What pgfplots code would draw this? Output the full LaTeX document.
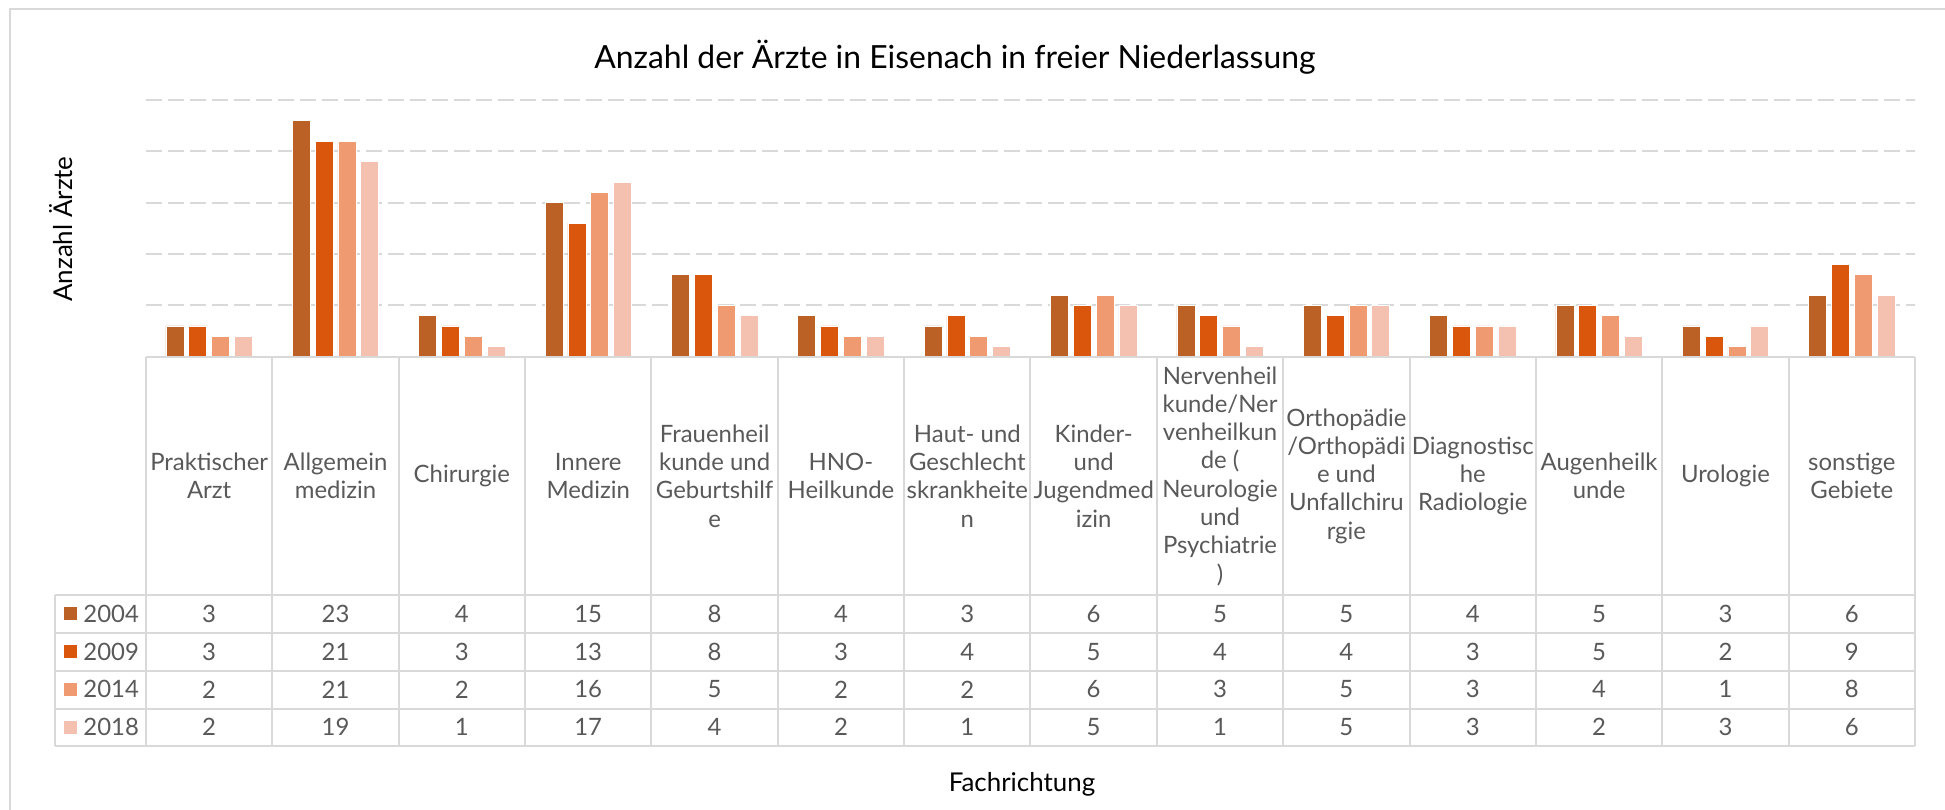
\documentclass[border=0pt]{standalone}
\usepackage{pgfplots}
\pgfplotsset{compat=1.18}
\usepackage{pgfplotstable}
\usepackage{fontspec}
\setmainfont{Lato}
\definecolor{c04}{HTML}{BB6125}
\definecolor{c09}{HTML}{DA560C}
\definecolor{c14}{HTML}{F09A72}
\definecolor{c18}{HTML}{F4C1B0}
\definecolor{gridc}{HTML}{D9D9D9}
\definecolor{txt}{HTML}{595959}

\pgfplotstableread{
x y2004 y2009 y2014 y2018
0 3 3 2 2
1 23 21 21 19
2 4 3 2 1
3 15 13 16 17
4 8 8 5 4
5 4 3 2 2
6 3 4 2 1
7 6 5 6 5
8 5 4 3 1
9 5 4 5 5
10 4 3 3 3
11 5 5 4 2
12 3 2 1 3
13 6 9 8 6
}\data

\begin{document}
\begin{tikzpicture}
\useasboundingbox (0,0) rectangle (972.5bp,-405bp);
\begin{axis}[
  at={(73bp,-178.35bp)}, anchor=south west,
  scale only axis, width=884.5bp, height=128.35bp,
  xmin=-0.5, xmax=13.5, ymin=0, ymax=25,
  ybar=2.4bp, bar width=9bp,
  axis line style={draw=none},
  ytick={5,10,15,20,25}, yticklabels={},
  ymajorgrids,
  grid style={draw=gridc, line width=1bp, dash pattern=on 8bp off 3bp},
  major tick length=0pt,
  xtick={0,...,13},
  xticklabels={{Praktischer\\Arzt},{Allgemein\\medizin},{Chirurgie},{Innere\\Medizin},{Frauenheil\\kunde und\\Geburtshilf\\e},{HNO-\\Heilkunde},{Haut- und\\Geschlecht\\skrankheite\\n},{Kinder-\\und\\Jugendmed\\izin},{Nervenheil\\kunde/Ner\\venheilkun\\de (\\Neurologie\\und\\Psychiatrie\\)},{Orthopädie\\/Orthopädi\\e und\\Unfallchiru\\rgie},{Diagnostisc\\he\\Radiologie},{Augenheilk\\unde},{Urologie},{sonstige\\Gebiete}},
  xticklabel style={anchor=center, yshift=-59.65bp, align=center, inner sep=0pt,
    font=\fontsize{12}{14.2}\selectfont, text=txt},
  every axis plot/.append style={draw=white, line width=0.3bp},
  clip=false,
]
\addplot[fill=c04] table[x=x,y=y2004]{\data};
\addplot[fill=c09] table[x=x,y=y2009]{\data};
\addplot[fill=c14] table[x=x,y=y2014]{\data};
\addplot[fill=c18] table[x=x,y=y2018]{\data};
\end{axis}
\begin{scope}[x=0.5bp,y=-0.5bp]
\draw[gridc, line width=0.9bp] (10,810) -- (10,9) -- (1945,9);
% data table lines
\begin{scope}[gridc, line width=1bp]
\draw (146,356.7) -- (1915,356.7);
\foreach \yy in {595,633,671,709,746} \draw (55,\yy) -- (1915,\yy);
\foreach \i in {0,...,14} \draw ({146+\i*126.357},356.7) -- ({146+\i*126.357},746);
\draw (55,595) -- (55,746);
\end{scope}
% legend keys and values
\foreach \col/\yr/\cc [count=\k from 0] in {y2004/2004/c04,y2009/2009/c09,y2014/2014/c14,y2018/2018/c18}{
  \fill[\cc] (64,{595+(\k+0.5)*37.75-6.5}) rectangle (77,{595+(\k+0.5)*37.75+6.5});
  \node[anchor=west, inner sep=0pt, text=txt, font=\fontsize{12}{14.4}\selectfont] at (83,{595+(\k+0.5)*37.75}) {\yr};
  \foreach \i in {0,...,13}{
    \pgfplotstablegetelem{\i}{\col}\of\data
    \node[inner sep=0pt, text=txt, font=\fontsize{12}{14.4}\selectfont] at ({146+(\i+0.5)*126.357},{595+(\k+0.5)*37.75}) {\pgfplotsretval};
  }
}
% titles
\node[font=\fontsize{16}{19}\selectfont] at (955,57) {Anzahl der Ärzte in Eisenach in freier Niederlassung};
\node[rotate=90, font=\fontsize{13}{15}\selectfont] at (61,229) {Anzahl Ärzte};
\node[font=\fontsize{13}{15}\selectfont] at (1022,784) {Fachrichtung};
\end{scope}
\end{tikzpicture}
\end{document}
